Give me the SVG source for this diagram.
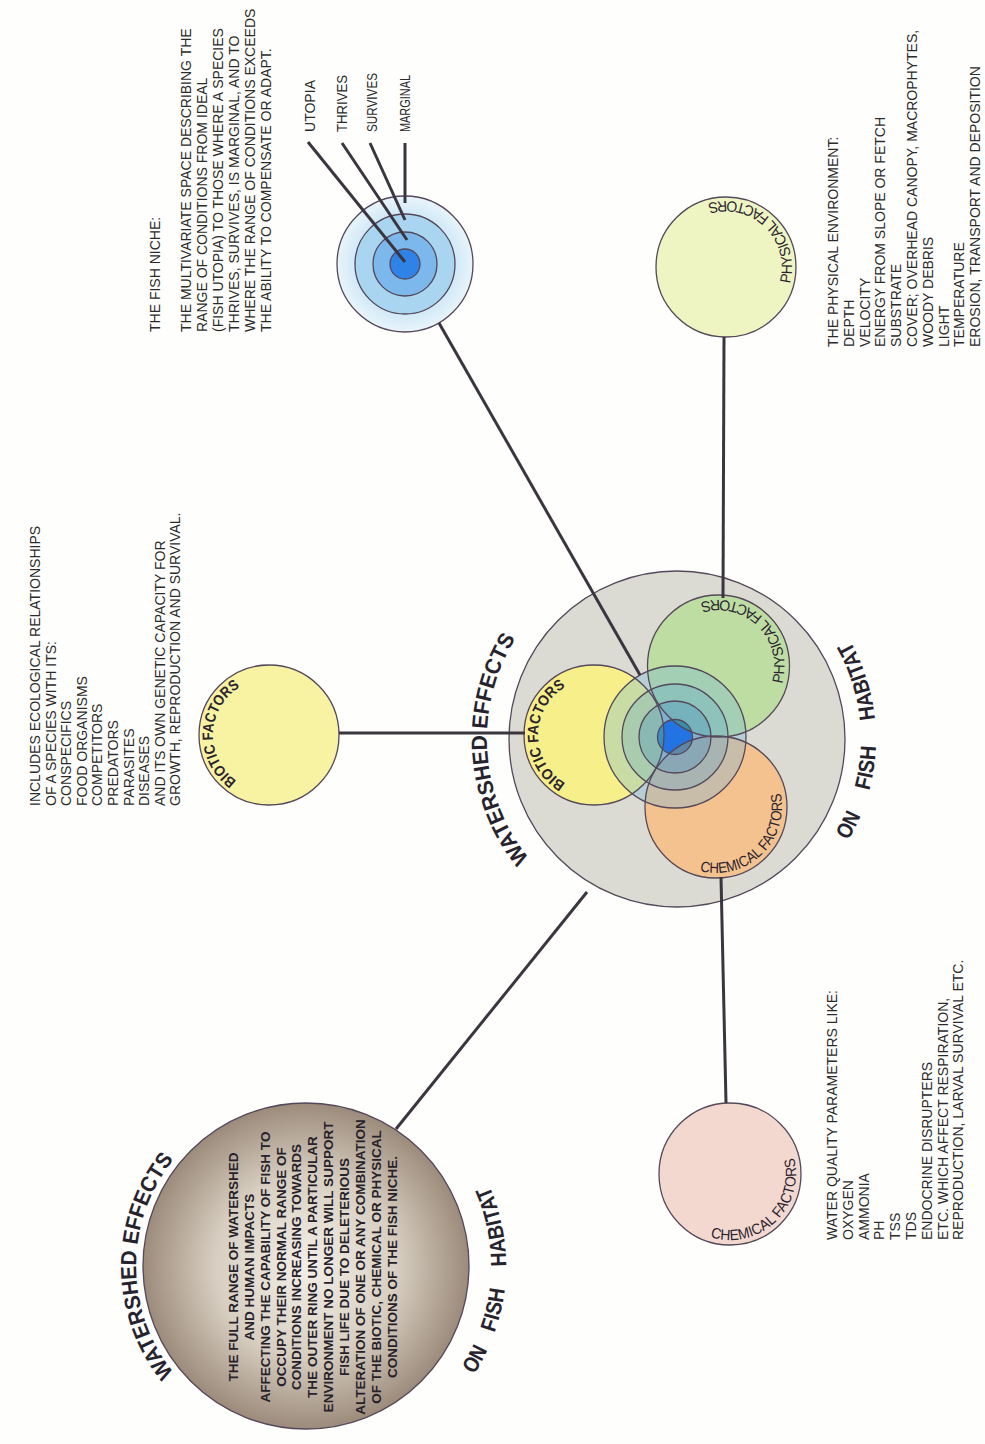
<svg xmlns="http://www.w3.org/2000/svg" width="985" height="1444" viewBox="0 0 985 1444">
<defs>
<style>
.body{font-family:"Liberation Sans",Arial,sans-serif;font-size:14px;fill:#2b2b2b}
.wtxt{font-family:"Liberation Sans",Arial,sans-serif;font-size:13.5px;font-weight:bold;fill:#26222a;text-anchor:middle}
.big{font-family:"Liberation Sans",Arial,sans-serif;font-weight:bold;font-size:22px;fill:#27232e}
.arcb{font-family:"Liberation Sans",Arial,sans-serif;font-weight:bold;font-size:15px;fill:#2b2430}
.arcr{font-family:"Liberation Sans",Arial,sans-serif;font-size:15px;fill:#2b2430}
.edge{stroke:#54485a;stroke-width:1.3}
.conn line{stroke:#3b3540;stroke-width:3}
</style>
<radialGradient id="gWs" cx="0.5" cy="0.5" r="0.5">
<stop offset="0" stop-color="#f2efe8"/>
<stop offset="0.55" stop-color="#d8cfc2"/>
<stop offset="1" stop-color="#9c8b7b"/>
</radialGradient>
<radialGradient id="gN" cx="0.5" cy="0.5" r="0.5">
<stop offset="0.6" stop-color="#c6e3f4"/>
<stop offset="1" stop-color="#e8f4fb"/>
</radialGradient>
<clipPath id="cUt"><circle cx="675" cy="737" r="17.5"/></clipPath>
<path id="pMWE" d="M 592.2 909.1 A 190 190 0 0 1 572.1 580.5"/>
<path id="pMON" d="M 829.4 866.9 A 199 199 0 0 0 829.4 611.1"/>
<path id="pWWE" d="M 276.5 1433.4 A 170 170 0 0 1 276.5 1098.6"/>
<path id="pWON" d="M 459.2 1394.6 A 200 200 0 0 0 459.2 1137.4"/>
<path id="pB1" d="M 248.0 786.9 A 56 56 0 0 1 251.7 681.7"/>
<path id="pB2" d="M 574.8 787.6 A 56 56 0 0 1 574.8 682.4"/>
<path id="pP1" d="M 783.6 299.2 A 66 66 0 0 0 692.3 210.3"/>
<path id="pP2" d="M 775.7 698.9 A 66 66 0 0 0 685.4 608.9"/>
<path id="pC1" d="M 695.5 1230.3 A 66 66 0 0 0 788.0 1142.5"/>
<path id="pC2" d="M 682.0 863.6 A 66 66 0 0 0 773.7 775.0"/>
</defs>
<rect width="985" height="1444" fill="#fefefc"/>

<g id="central">
<circle cx="677" cy="739" r="168" fill="#dcdbd3"/>
<circle cx="594" cy="735" r="70" fill="#f6ef8a"/>
<circle cx="718.5" cy="666" r="71" fill="#bedda2"/>
<circle cx="716" cy="807" r="71" fill="#f4c28f"/>
<circle cx="675" cy="737" r="71" fill="#6ab4dc" fill-opacity="0.32"/>
<circle cx="675" cy="737" r="53" fill="#4a9ad0" fill-opacity="0.25"/>
<circle cx="675" cy="737" r="36" fill="#2f80c0" fill-opacity="0.25"/>
<circle cx="675" cy="737" r="17.5" fill="#2373e2"/>
<g clip-path="url(#cUt)">
<circle cx="594" cy="735" r="70" fill="#3d8cc0"/>
<circle cx="718.5" cy="666" r="71" fill="#3a90a8"/>
<circle cx="716" cy="807" r="71" fill="#5f86a6"/>
</g>
<g class="edge" fill="none">
<circle cx="677" cy="739" r="168"/>
<circle cx="594" cy="735" r="70"/>
<circle cx="718.5" cy="666" r="71"/>
<circle cx="716" cy="807" r="71"/>
<circle cx="675" cy="737" r="71"/>
<circle cx="675" cy="737" r="53"/>
<circle cx="675" cy="737" r="36"/>
<circle cx="675" cy="737" r="17.5"/>
</g>
<text class="arcb"><textPath href="#pB2" startOffset="50%" text-anchor="middle" textLength="116" lengthAdjust="spacingAndGlyphs">BIOTIC FACTORS</textPath></text>
<text class="arcr"><textPath href="#pP2" startOffset="50%" text-anchor="middle" textLength="140" lengthAdjust="spacingAndGlyphs">PHYSICAL FACTORS</textPath></text>
<text class="arcr"><textPath href="#pC2" startOffset="50%" text-anchor="middle" textLength="134" lengthAdjust="spacingAndGlyphs">CHEMICAL FACTORS</textPath></text>
<text class="big"><textPath href="#pMWE" startOffset="50%" text-anchor="middle" textLength="235" lengthAdjust="spacingAndGlyphs">WATERSHED EFFECTS</textPath></text>
<text class="big"><textPath href="#pMON" startOffset="46.5" text-anchor="middle" textLength="28" lengthAdjust="spacingAndGlyphs">ON</textPath></text>
<text class="big"><textPath href="#pMON" startOffset="109" text-anchor="middle" textLength="45" lengthAdjust="spacingAndGlyphs">FISH</textPath></text>
<text class="big"><textPath href="#pMON" startOffset="200" text-anchor="middle" textLength="83" lengthAdjust="spacingAndGlyphs">HABITAT</textPath></text>
</g>

<g id="niche">
<circle cx="405" cy="264" r="68" fill="url(#gN)" class="edge"/>
<circle cx="405" cy="264" r="50" fill="#a9d5f0" class="edge"/>
<circle cx="405" cy="264" r="32" fill="#7db8ec" class="edge"/>
<circle cx="405" cy="264" r="15" fill="#2f82e6" class="edge"/>
<g transform="rotate(-90)" class="body">
<text x="-132" y="315" textLength="52" lengthAdjust="spacingAndGlyphs">UTOPIA</text>
<text x="-132" y="347" textLength="57" lengthAdjust="spacingAndGlyphs">THRIVES</text>
<text x="-132" y="377" textLength="59" lengthAdjust="spacingAndGlyphs">SURVIVES</text>
<text x="-132" y="410" textLength="57" lengthAdjust="spacingAndGlyphs">MARGINAL</text>
</g>
</g>

<g id="niche-text" transform="rotate(-90)" class="body">
<text x="-332" y="160">THE FISH NICHE:</text>
<text x="-332" y="191">THE MULTIVARIATE SPACE DESCRIBING THE<tspan x="-332" dy="16">RANGE OF CONDITIONS FROM IDEAL</tspan><tspan x="-332" dy="16">(FISH UTOPIA) TO THOSE WHERE A SPECIES</tspan><tspan x="-332" dy="16">THRIVES, SURVIVES, IS MARGINAL, AND TO</tspan><tspan x="-332" dy="16">WHERE THE RANGE OF CONDITIONS EXCEEDS</tspan><tspan x="-332" dy="16">THE ABILITY TO COMPENSATE OR ADAPT.</tspan></text>
</g>

<g id="biotic">
<circle cx="269" cy="735" r="70" fill="#f7f3a2" class="edge"/>
<text class="arcb"><textPath href="#pB1" startOffset="50%" text-anchor="middle" textLength="111" lengthAdjust="spacingAndGlyphs">BIOTIC FACTORS</textPath></text>
</g>
<g id="biotic-text" transform="rotate(-90)" class="body">
<text x="-806" y="40">INCLUDES ECOLOGICAL RELATIONSHIPS<tspan x="-806" dy="15.6">OF A SPECIES WITH ITS:</tspan><tspan x="-806" dy="15.6">CONSPECIFICS</tspan><tspan x="-806" dy="15.6">FOOD ORGANISMS</tspan><tspan x="-806" dy="15.6">COMPETITORS</tspan><tspan x="-806" dy="15.6">PREDATORS</tspan><tspan x="-806" dy="15.6">PARASITES</tspan><tspan x="-806" dy="15.6">DISEASES</tspan><tspan x="-806" dy="15.6">AND ITS OWN GENETIC CAPACITY FOR</tspan><tspan x="-806" dy="15.6">GROWTH, REPRODUCTION AND SURVIVAL.</tspan></text>
</g>

<g id="physical">
<circle cx="726" cy="267" r="70" fill="#eef5c2" class="edge"/>
<text class="arcr"><textPath href="#pP1" startOffset="50%" text-anchor="middle" textLength="139" lengthAdjust="spacingAndGlyphs">PHYSICAL FACTORS</textPath></text>
</g>
<g id="physical-text" transform="rotate(-90)" class="body">
<text x="-347" y="838">THE PHYSICAL ENVIRONMENT:<tspan x="-347" dy="15.8">DEPTH</tspan><tspan x="-347" dy="15.8">VELOCITY</tspan><tspan x="-347" dy="15.8">ENERGY FROM SLOPE OR FETCH</tspan><tspan x="-347" dy="15.8">SUBSTRATE</tspan><tspan x="-347" dy="15.8">COVER; OVERHEAD CANOPY, MACROPHYTES,</tspan><tspan x="-347" dy="15.8">WOODY DEBRIS</tspan><tspan x="-347" dy="15.8">LIGHT</tspan><tspan x="-347" dy="15.8">TEMPERATURE</tspan><tspan x="-347" dy="15.8">EROSION, TRANSPORT AND DEPOSITION</tspan></text>
</g>

<g id="chemical">
<circle cx="730" cy="1174" r="71" fill="#f3d8cf" class="edge"/>
<text class="arcr"><textPath href="#pC1" startOffset="50%" text-anchor="middle" textLength="140" lengthAdjust="spacingAndGlyphs">CHEMICAL FACTORS</textPath></text>
</g>
<g id="chemical-text" transform="rotate(-90)" class="body">
<text x="-1240" y="837">WATER QUALITY PARAMETERS LIKE:<tspan x="-1240" dy="15.8">OXYGEN</tspan><tspan x="-1240" dy="15.8">AMMONIA</tspan><tspan x="-1240" dy="15.8">PH</tspan><tspan x="-1240" dy="15.8">TSS</tspan><tspan x="-1240" dy="15.8">TDS</tspan><tspan x="-1240" dy="15.8">ENDOCRINE DISRUPTERS</tspan><tspan x="-1240" dy="15.8">ETC. WHICH AFFECT RESPIRATION,</tspan><tspan x="-1240" dy="15.8">REPRODUCTION, LARVAL SURVIVAL ETC.</tspan></text>
</g>

<g id="watershed">
<circle cx="306" cy="1266" r="163" fill="url(#gWs)" class="edge"/>
<g transform="rotate(-90)" class="wtxt">
<text x="-1267" y="238">THE FULL RANGE OF WATERSHED<tspan x="-1267" dy="15.85">AND  HUMAN IMPACTS</tspan><tspan x="-1267" dy="15.85">AFFECTING THE CAPABILITY OF FISH TO</tspan><tspan x="-1267" dy="15.85">OCCUPY THEIR NORMAL RANGE OF</tspan><tspan x="-1267" dy="15.85">CONDITIONS INCREASING TOWARDS</tspan><tspan x="-1267" dy="15.85">THE OUTER RING UNTIL A PARTICULAR</tspan><tspan x="-1267" dy="15.85">ENVIRONMENT NO LONGER WILL SUPPORT</tspan><tspan x="-1267" dy="15.85">FISH LIFE DUE TO DELETERIOUS</tspan><tspan x="-1267" dy="15.85">ALTERATION OF ONE OR ANY COMBINATION</tspan><tspan x="-1267" dy="15.85">OF THE BIOTIC, CHEMICAL OR PHYSICAL</tspan><tspan x="-1267" dy="15.85">CONDITIONS OF THE FISH NICHE.</tspan></text>
</g>
<text class="big"><textPath href="#pWWE" startOffset="50%" text-anchor="middle" textLength="231" lengthAdjust="spacingAndGlyphs">WATERSHED EFFECTS</textPath></text>
<text class="big"><textPath href="#pWON" startOffset="39" text-anchor="middle" textLength="28" lengthAdjust="spacingAndGlyphs">ON</textPath></text>
<text class="big"><textPath href="#pWON" startOffset="94" text-anchor="middle" textLength="45" lengthAdjust="spacingAndGlyphs">FISH</textPath></text>
<text class="big"><textPath href="#pWON" startOffset="181" text-anchor="middle" textLength="83" lengthAdjust="spacingAndGlyphs">HABITAT</textPath></text>
</g>

<g id="connectors" class="conn">
<line x1="439" y1="323" x2="640" y2="675"/>
<line x1="339" y1="733" x2="525" y2="733"/>
<line x1="724" y1="337" x2="723" y2="598"/>
<line x1="721" y1="877" x2="726" y2="1103"/>
<line x1="587" y1="892" x2="396" y2="1129"/>
<line x1="308" y1="142" x2="405" y2="262"/>
<line x1="342" y1="143" x2="407" y2="240"/>
<line x1="370" y1="143" x2="405" y2="220"/>
<line x1="405" y1="143" x2="405" y2="203"/>
</g>
</svg>
